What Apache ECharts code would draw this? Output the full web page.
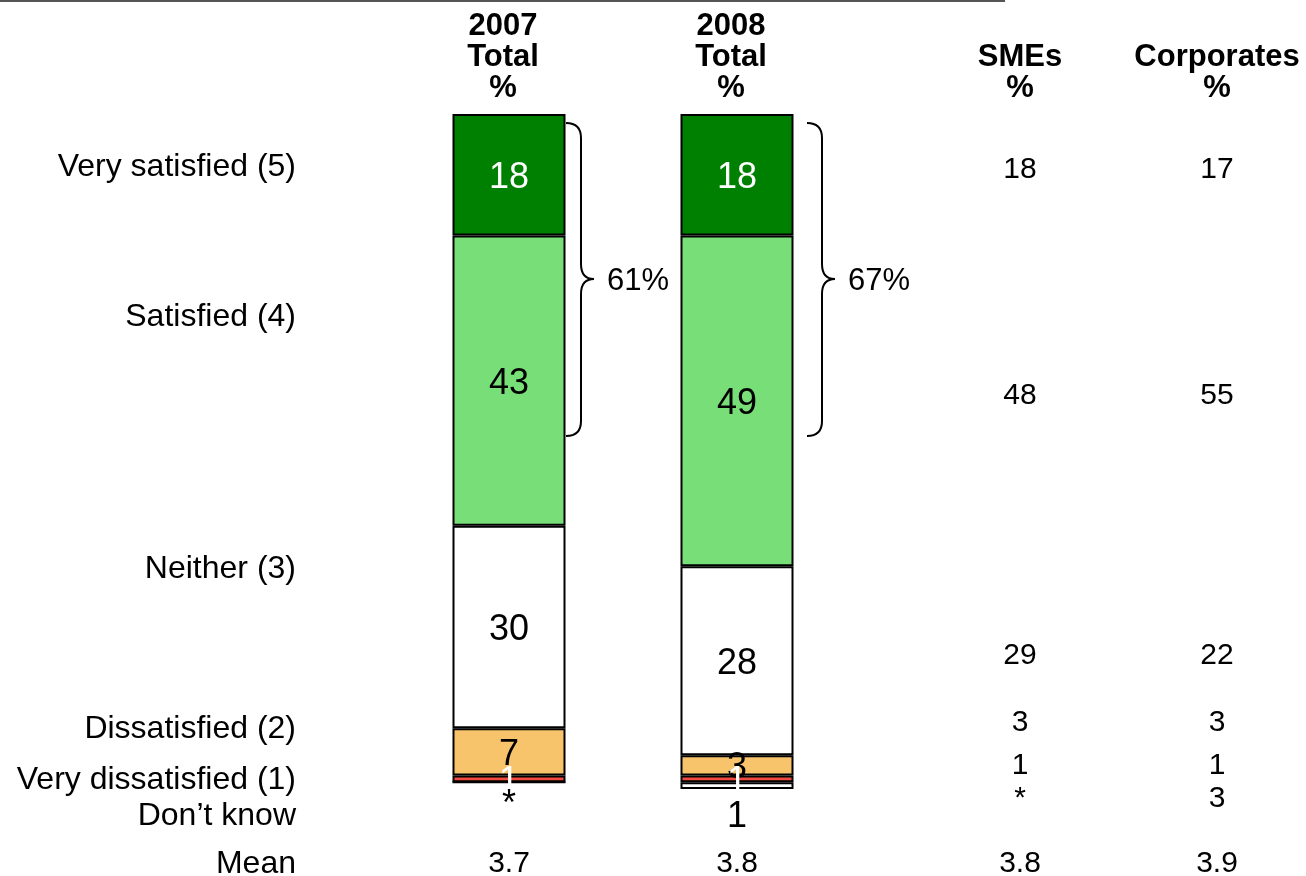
<!DOCTYPE html>
<html><head><meta charset="utf-8">
<script src="https://cdn.jsdelivr.net/npm/echarts@6/dist/echarts.min.js"></script>
<style>html,body{margin:0;padding:0;background:#fff}#c{width:1306px;height:876px}</style>
</head><body><div id="c"></div>
<script>
// ---- data ----
const years = ['2007 Total', '2008 Total'];
const rowLabels = ['Very satisfied (5)', 'Satisfied (4)', 'Neither (3)', 'Dissatisfied (2)', 'Very dissatisfied (1)', 'Don\u2019t know', 'Mean'];
const verySatisfied = [18, 18];
const satisfied = [43, 49];
const neither = [30, 28];
const dissatisfied = [7, 3];
const veryDissatisfied = [1, 1];
const dontKnow = [0, 1];
const topTwoBox = ['61%', '67%'];
const smes = ['18', '48', '29', '3', '1', '*'];
const corporates = ['17', '55', '22', '3', '1', '3'];
const means = ['3.7', '3.8', '3.8', '3.9'];
const headers = [['2007', 'Total', '%'], ['2008', 'Total', '%'], ['SMEs', '%'], ['Corporates', '%']];

// ---- layout ----
const FONT = '"Liberation Sans", Arial, sans-serif';
const colX = [509, 737, 1020, 1217];
const rowLabelY = [167, 317, 569, 729, 780, 816, 864];
const tableRowY = [170, 396, 656, 723, 766, 799];
const meanY = 864;

const chart = echarts.init(document.getElementById('c'), null, {renderer: 'canvas'});

function barSeries(name, data, color, labelColor, extra) {
  return Object.assign({
    name: name, type: 'bar', stack: 'total', barWidth: 113,
    data: data,
    itemStyle: {color: color, borderColor: '#000', borderWidth: 2},
    label: {show: true, position: 'inside', offset: [0, 3], color: labelColor, fontSize: 36, fontFamily: FONT},
    emphasis: {disabled: true}
  }, extra || {});
}

const dkOffsets = [[0, 23], [0, 31]];
const dkData = dontKnow.map((v, i) => ({value: v, label: {offset: dkOffsets[i]}}));

const graphics = [];
graphics.push({type: 'line', shape: {x1: 0, y1: 1, x2: 1005, y2: 1}, style: {stroke: '#555', lineWidth: 2}});

function txt(t, x, y, size, align, bold, color) {
  graphics.push({type: 'text', x: x, y: y, silent: true,
    style: {text: t, fill: color || '#000', font: (bold ? 'bold ' : '') + size + 'px ' + FONT,
      align: align, verticalAlign: 'middle'}});
}
// headers
headers.forEach((lines, c) => {
  const start = 3 - lines.length;
  const hx = c < 2 ? colX[c] - 6 : colX[c];
  lines.forEach((l, i) => txt(l, hx, 26 + (start + i) * 31, 31, 'center', true));
});
// row labels
rowLabels.forEach((l, i) => txt(l, 296, rowLabelY[i], 32, 'right', false));
// SMEs / Corporates columns
smes.forEach((v, i) => txt(v, colX[2], tableRowY[i], 30, 'center', false));
corporates.forEach((v, i) => txt(v, colX[3], tableRowY[i], 30, 'center', false));
// means
means.forEach((v, i) => txt(v, colX[i], meanY, 30, 'center', false));
// braces + top-two-box
function seg(type, shape) {
  graphics.push({type: type, shape: shape, silent: true, style: {fill: null, stroke: '#000', lineWidth: 2}});
}
[566, 807].forEach((bx, i) => {
  const vx = bx + 15, tx = bx + 28, y0 = 123, ym = 279, y1 = 436;
  seg('bezierCurve', {x1: bx, y1: y0, cpx1: vx, cpy1: y0, x2: vx, y2: y0 + 15});
  seg('line', {x1: vx, y1: y0 + 15, x2: vx, y2: ym - 15});
  seg('bezierCurve', {x1: vx, y1: ym - 15, cpx1: vx, cpy1: ym, x2: tx, y2: ym});
  seg('bezierCurve', {x1: tx, y1: ym, cpx1: vx, cpy1: ym, x2: vx, y2: ym + 15});
  seg('line', {x1: vx, y1: ym + 15, x2: vx, y2: y1 - 15});
  seg('bezierCurve', {x1: vx, y1: y1 - 15, cpx1: vx, cpy1: y1, x2: bx, y2: y1});
  txt(topTwoBox[i], bx + 41, ym + 2, 31, 'left', false);
});

chart.setOption({
  animation: false,
  backgroundColor: '#fff',
  grid: {left: 395, width: 456, top: 114, height: 675},
  xAxis: {type: 'category', data: years, show: false},
  yAxis: {type: 'value', min: 0, max: 100, inverse: true, show: false},
  series: [
    barSeries('Very satisfied (5)', verySatisfied, '#008000', '#fff'),
    barSeries('Satisfied (4)', satisfied, '#77DE78', '#000'),
    barSeries('Neither (3)', neither, '#ffffff', '#000'),
    barSeries('Dissatisfied (2)', dissatisfied, '#F8C46B', '#000'),
    barSeries('Very dissatisfied (1)', veryDissatisfied, '#F24A3E', '#fff'),
    barSeries('Don\u2019t know', dkData, '#ffffff', '#000', {
      label: {show: true, position: 'inside', color: '#000', fontSize: 36, fontFamily: FONT,
        formatter: p => (p.value === 0 ? '*' : String(p.value))}
    })
  ],
  graphic: graphics
});
</script></body></html>
